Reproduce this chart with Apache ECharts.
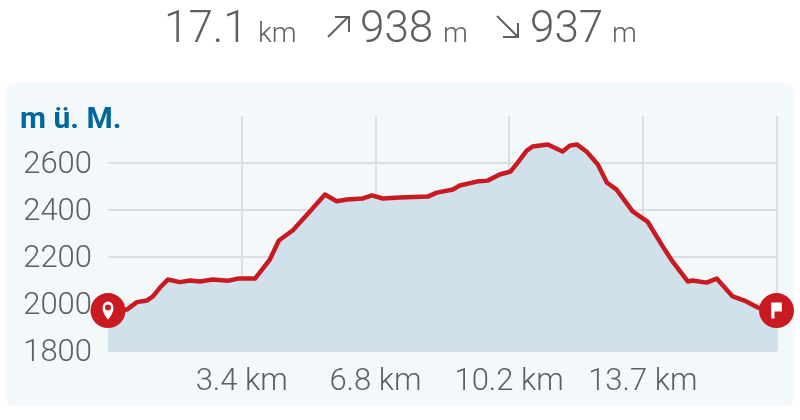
<!DOCTYPE html>
<html>
<head>
<meta charset="utf-8">
<title>Höhenprofil</title>
<script src="https://cdn.jsdelivr.net/npm/echarts@6/dist/echarts.min.js"></script>
<style>
	html,body{margin:0;padding:0;background:#fff;}
	#chart{width:800px;height:420px;}
</style>
</head>
<body>
<div id="chart"></div>
<script>
	var distances = [0,0.49,0.74,1.0,1.15,1.33,1.53,1.84,2.10,2.35,2.68,3.07,3.32,3.76,4.14,4.37,4.73,5.21,5.55,5.85,6.11,6.52,6.75,7.03,7.46,8.18,8.41,8.82,9.0,9.43,9.71,10.02,10.30,10.48,10.71,10.86,11.25,11.63,11.81,11.99,12.24,12.53,12.76,13.01,13.42,13.80,14.19,14.44,14.83,14.95,15.31,15.57,15.98,16.33,16.62,17.1];
	var elevations = [1972,1977,2008,2015,2032,2070,2104,2093,2100,2096,2104,2099,2108,2108,2189,2270,2314,2402,2466,2437,2445,2449,2462,2449,2453,2457,2474,2487,2504,2521,2525,2551,2564,2602,2653,2670,2679,2649,2674,2679,2649,2594,2517,2487,2394,2351,2245,2181,2096,2100,2091,2108,2032,2011,1985,1972];
	var xTickLabels = ['','3.4 km','6.8 km','10.2 km','13.7 km',''];
	var headline = {distance:'17.1',ascent:'938',descent:'937'};

	var textColor='#5f5f5f', red='#c91a22', grid='#dcdfe2';
	var points = distances.map(function(d,i){ return [d,elevations[i]]; });
	var last = points.length-1;

	function label(x,y,text,size,weight,color){
		return {type:'text',silent:true,style:{x:x,y:y,text:text,fill:color||textColor,font:(weight||300)+' '+size+'px Roboto',verticalAlign:'middle'}};
	}
	function arrow(pts){
		return {type:'polyline',silent:true,shape:{points:pts},style:{stroke:textColor,lineWidth:2,fill:null}};
	}

	var myChart = echarts.init(document.getElementById('chart'),null,{renderer:'canvas'});
	myChart.setOption({
		animation:false,
		graphic:[
			{type:'rect',z:-10,silent:true,shape:{x:6,y:83,width:788,height:323,r:8},style:{fill:'#f3f8fb'}},
			label(164,31,headline.distance,44),
			label(258,35,'km',28,300),
			arrow([[328,37],[348,17]]),
			arrow([[335,17],[349,17],[349,32]]),
			label(360,31,headline.ascent,44),
			label(443,35,'m',28,300),
			arrow([[497,16],[518,37]]),
			arrow([[503,37],[518,37],[518,23]]),
			label(530,31,headline.descent,44),
			label(612,35,'m',28,300),
			label(20,120,'m ü. M.',30,700,'#00689d')
		],
		grid:{left:108,right:23.5,top:116,bottom:69},
		xAxis:{
			type:'value',min:0,max:17.1,interval:3.42,
			axisLine:{show:false},axisTick:{show:false},
			axisLabel:{
				margin:16,color:textColor,fontFamily:'Roboto',fontSize:31,fontWeight:300,
				formatter:function(v){ return xTickLabels[Math.round(v/3.42)]; }
			},
			splitLine:{show:true,showMinLine:false,lineStyle:{color:grid,width:2}}
		},
		yAxis:{
			type:'value',min:1800,max:2800,interval:200,
			axisLine:{show:false},axisTick:{show:false},
			axisLabel:{margin:16,verticalAlign:'top',padding:[-13,0,0,0],showMaxLabel:false,color:textColor,fontFamily:'Roboto',fontSize:31,fontWeight:300,formatter:function(v){ return String(v); }},
			splitLine:{show:true,showMaxLine:false,lineStyle:{color:grid,width:2}}
		},
		series:[
			{
				type:'line',data:points,symbol:'none',clip:false,
				lineStyle:{color:red,width:4.5,join:'round'},
				areaStyle:{color:'#d0e1eb',opacity:1},
				z:2
			},
			{
				type:'scatter',data:[points[0],points[last]],symbol:'circle',symbolSize:35,clip:false,silent:true,z:3,
				itemStyle:{color:red,opacity:1}
			},
			{
				type:'scatter',data:[points[0]],clip:false,silent:true,z:4,
				symbol:'path://M7 0C3 0 0 3 0 7c0 5 7 11 7 11s7-6 7-11C14 3 11 0 7 0z',symbolSize:[14,18],symbolKeepAspect:true,
				itemStyle:{color:'#fff',opacity:1}
			},
			{
				type:'scatter',data:[points[0]],clip:false,silent:true,z:5,
				symbol:'circle',symbolSize:6,symbolOffset:[0,-3],
				itemStyle:{color:red,opacity:1}
			},
			{
				type:'scatter',data:[points[last]],clip:false,silent:true,z:4,
				symbol:'path://M0 0H13V9H4V16H0Z',symbolSize:[13,16],symbolKeepAspect:true,
				itemStyle:{color:'#fff',opacity:1}
			}
		]
	});
</script>
</body>
</html>
